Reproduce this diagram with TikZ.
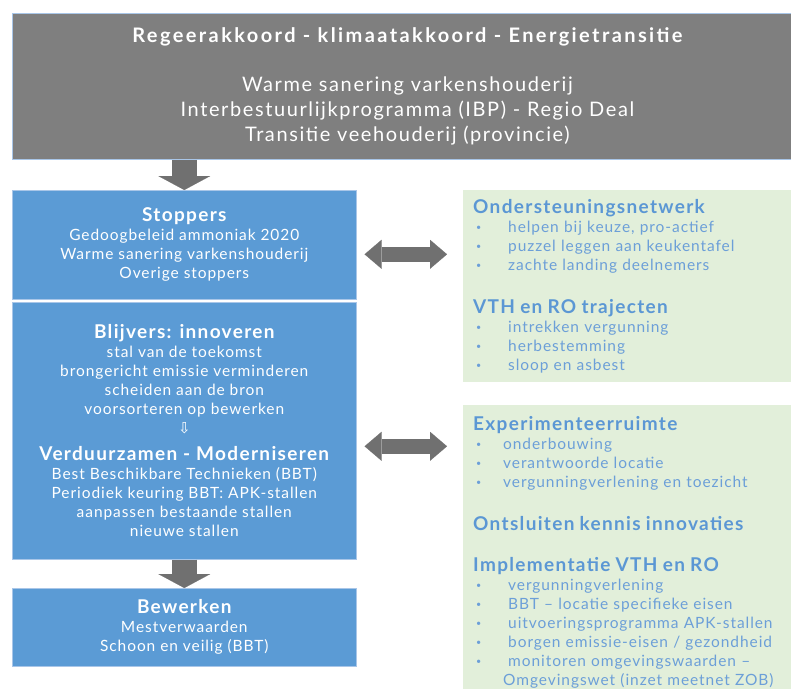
\documentclass[tikz,border=0pt]{standalone}
\usepackage{fontspec}
\setmainfont{Lato}[LetterSpace=6]
\newfontfamily\symfont{DejaVu Sans}
\usetikzlibrary{arrows.meta,positioning}

\definecolor{grijs}{HTML}{7F7F7F}
\definecolor{pijlgrijs}{HTML}{707070}
\definecolor{blauw}{HTML}{5B9BD5}
\definecolor{rand}{HTML}{A9C6E8}
\definecolor{groen}{HTML}{E2EFDA}
\definecolor{kopblauw}{HTML}{5B97D4}
\definecolor{tekstblauw}{HTML}{6C9FD8}

\newcommand{\opsom}[2][35pt]{\makebox[#1][l]{\hspace{3pt}\raisebox{1.5pt}{\fontsize{9}{9}\selectfont•}}#2}
\newcommand{\kopje}[1]{{\bfseries\addfontfeatures{LetterSpace=7}\fontsize{19}{19}\selectfont #1}}

\tikzstyle{kop} = [fill=grijs, draw=rand, line width=0.8pt, text=white, align=center, anchor=north west, minimum width=790pt, minimum height=146pt, inner sep=0pt, font=\fontsize{20}{25}\selectfont\addfontfeatures{LetterSpace=8}]
\tikzstyle{blok} = [fill=blauw, draw=rand, line width=0.6pt, text=white, align=center, anchor=north west, minimum width=344pt, inner sep=0pt, font=\fontsize{15.5}{19}\selectfont]
\tikzstyle{veld} = [fill=groen, anchor=north west, text width=308pt, inner xsep=10pt, inner ysep=0pt, align=left, text=tekstblauw, font=\fontsize{15.5}{19}\selectfont]
\tikzstyle{pijl} = [pijlgrijs, line width=25pt, -{Triangle[length=14pt,width=52pt,line width=0.1pt]}]
\tikzstyle{dubbelpijl} = [pijlgrijs, line width=15pt, {Triangle[length=17pt,width=29pt,line width=0.1pt]}-{Triangle[length=17pt,width=29pt,line width=0.1pt]}, shorten <=8pt, shorten >=16pt]

\begin{document}
\begin{tikzpicture}[x=1pt, y=-1pt]
\useasboundingbox (0,0) rectangle (791,688);

\node[kop] (akkoord) at (12,13) {{\bfseries\addfontfeatures{LetterSpace=12}Regeerakkoord - klimaatakkoord - Energietransitie}\\[24pt]
	Warme sanering varkenshouderij\\
	Interbestuurlijkprogramma (IBP) - Regio Deal\\
	Transitie veehouderij (provincie)};

\node[blok, minimum height=109pt] (stoppers) at (12,190) {\kopje{Stoppers}\\
	Gedoogbeleid ammoniak 2020\\
	Warme sanering varkenshouderij\\
	Overige stoppers};

\node[blok, minimum height=257pt] (blijvers) at (12,302) {\kopje{Blijvers: innoveren}\\
	stal van de toekomst\\
	brongericht emissie verminderen\\
	scheiden aan de bron\\
	voorsorteren op bewerken\\
	{\symfont\fontsize{15}{19}\selectfont ⇩}\\[8pt]
	\kopje{Verduurzamen - Moderniseren}\\
	Best Beschikbare Technieken (BBT)\\
	Periodiek keuring BBT: APK-stallen\\
	aanpassen bestaande stallen\\
	nieuwe stallen};

\node[blok, minimum height=78pt] (bewerken) at (12,588) {\kopje{Bewerken}\\
	Mestverwaarden\\
	Schoon en veilig (BBT)};

\node[veld, minimum height=192pt] (netwerk) at (463,190) {{\color{kopblauw}\kopje{Ondersteuningsnetwerk}}\\
	\opsom{helpen bij keuze, pro-actief}\\
	\opsom{puzzel leggen aan keukentafel}\\
	\opsom{zachte landing deelnemers}\\[24pt]
	{\color{kopblauw}\kopje{VTH en RO trajecten}}\\
	\opsom{intrekken vergunning}\\
	\opsom{herbestemming}\\
	\opsom{sloop en asbest}};

\node[veld, minimum height=294pt] (ruimte) at (463,405) {{\color{kopblauw}\kopje{Experimenteerruimte}}\\
	\opsom[30pt]{onderbouwing}\\
	\opsom[30pt]{verantwoorde locatie}\\
	\opsom[30pt]{vergunningverlening en toezicht}\\[24pt]
	{\color{kopblauw}\kopje{Ontsluiten kennis innovaties}}\\[22pt]
	{\color{kopblauw}\kopje{Implementatie VTH en RO}}\\
	\opsom{vergunningverlening}\\
	\opsom{BBT – locatie specifieke eisen}\\
	\opsom{uitvoeringsprogramma APK-stallen}\\
	\opsom{borgen emissie-eisen / gezondheid}\\
	\opsom{monitoren omgevingswaarden –}\\
	\hspace{30pt}Omgevingswet (inzet meetnet ZOB)};

\draw[pijl] (akkoord.south -| stoppers.north) -- (stoppers.north);
\draw[pijl] (blijvers.south) -- (bewerken.north);

\coordinate (links1) at ([yshift=-9.5pt]stoppers.east);
\coordinate (links2) at ([yshift=-15.5pt]blijvers.east);
\draw[dubbelpijl] (links1) -- (links1 -| netwerk.west);
\draw[dubbelpijl] (links2) -- (links2 -| ruimte.west);
\end{tikzpicture}
\end{document}
